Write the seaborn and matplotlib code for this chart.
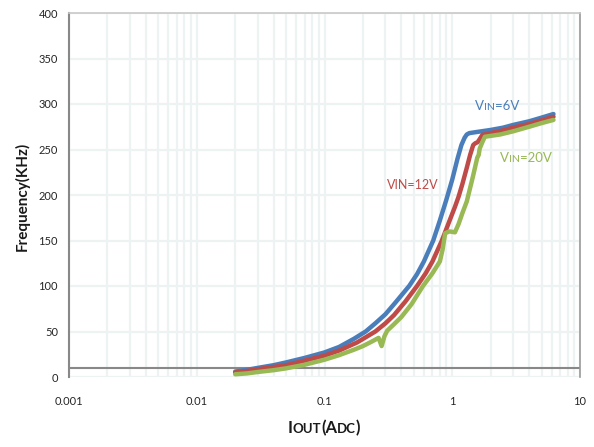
import pandas as pd
import seaborn as sns
import matplotlib.pyplot as plt
from matplotlib.offsetbox import TextArea, HPacker, AnnotationBbox, AnchoredOffsetbox

# 数据
iout_6v = [0.02, 0.025, 0.03, 0.04, 0.05, 0.07, 0.1, 0.13, 0.17, 0.21, 0.25, 0.3,
           0.36, 0.46, 0.53, 0.6, 0.71, 0.8, 0.9, 1.0, 1.1, 1.18, 1.25, 1.3, 1.36,
           1.6, 2.0, 2.5, 3.0, 4.0, 5.0, 6.2]
freq_6v = [6, 8, 10, 13, 16, 21, 27, 33, 42, 50, 59, 69,
           82, 100, 113, 127, 150, 172, 195, 217, 240, 255, 263, 266.5, 268,
           269.5, 271.5, 274, 277, 281, 285, 289]

iout_12v = [0.02, 0.025, 0.03, 0.04, 0.05, 0.07, 0.1, 0.13, 0.18, 0.25, 0.3, 0.35,
            0.43, 0.53, 0.62, 0.7, 0.83, 0.96, 1.05, 1.12, 1.2, 1.3, 1.38, 1.46,
            1.52, 1.58, 1.65, 1.72, 2.0, 2.5, 3.0, 4.0, 5.0, 6.2]
freq_12v = [5, 6.7, 8.5, 11, 13, 18, 23.5, 29, 38, 50, 59, 68,
            83, 100, 114, 127, 150, 173, 187, 198, 212, 230, 244, 255,
            257, 258, 262, 266, 268, 271, 274, 278, 282, 286]

iout_20v = [0.02, 0.025, 0.03, 0.04, 0.05, 0.07, 0.1, 0.13, 0.17, 0.2, 0.235, 0.265,
            0.28, 0.295, 0.31, 0.35, 0.4, 0.48, 0.59, 0.7, 0.8, 0.84, 0.88, 0.95,
            1.05, 1.12, 1.2, 1.3, 1.45, 1.57, 1.61, 1.64, 1.72, 1.8, 2.37, 3.0,
            4.0, 5.0, 6.2]
freq_20v = [3, 4, 5.5, 7.5, 9.5, 13.5, 19, 24, 30, 34, 39, 43,
            34, 45, 51, 58, 66, 80, 100, 114, 127, 140, 158, 160,
            159, 168, 180, 193, 220, 241, 244, 251, 258, 264, 266.5, 270,
            275, 279, 282.5]

series = ['6V', '12V', '20V']
colors = ['#4A7EBB', '#BE4B48', '#98B954']

x_ticks = [0.001, 0.01, 0.1, 1, 10]
x_tick_labels = ['0.001', '0.01', '0.1', '1', '10']
y_ticks = [0, 50, 100, 150, 200, 250, 300, 350, 400]

df = pd.concat([
    pd.DataFrame({'Iout': iout_6v, 'Freq': freq_6v, 'Vin': '6V'}),
    pd.DataFrame({'Iout': iout_12v, 'Freq': freq_12v, 'Vin': '12V'}),
    pd.DataFrame({'Iout': iout_20v, 'Freq': freq_20v, 'Vin': '20V'}),
])

sns.set_style('white')
FONT = ['Lato', 'DejaVu Sans']
plt.rcParams['font.family'] = FONT

fig = plt.figure(figsize=(5.94, 4.47), dpi=100)
ax = fig.add_axes([69 / 594, 1 - 377 / 447, 511 / 594, 364 / 447])

sns.lineplot(data=df, x='Iout', y='Freq', hue='Vin', hue_order=series,
             palette=colors, estimator=None, sort=False, linewidth=3.2,
             legend=False, ax=ax, solid_capstyle='round', solid_joinstyle='round')

ax.set_xscale('log')
ax.set_xlim(0.001, 10)
ax.set_ylim(0, 400)
ax.set_xticks(x_ticks, x_tick_labels)
ax.set_yticks(y_ticks)
ax.tick_params(axis='both', length=0, labelsize=8, colors='#262626')
ax.tick_params(axis='x', pad=14)
ax.tick_params(axis='y', pad=8)
ax.set_xlabel('')
ax.set_ylabel('')

# 网格
ax.grid(True, which='both', axis='x', color='#EDF2F2', linewidth=1.6)
ax.grid(True, which='major', axis='y', color='#EDF2F2', linewidth=1.6)
ax.set_axisbelow(True)

# 坐标轴样式
ax.spines['left'].set_color('#888888')
ax.spines['left'].set_linewidth(1.5)
ax.spines['right'].set_color('#9A9A9A')
ax.spines['right'].set_linewidth(1.2)
ax.spines['top'].set_color('#C8C8C8')
ax.spines['top'].set_linewidth(1.2)
ax.spines['bottom'].set_visible(False)
ax.axhline(10, color='#888888', linewidth=1.5, zorder=1.5)


def mixed_text(parts, color, weight='normal'):
    boxes = [TextArea(s, textprops=dict(fontsize=fs, color=color, fontweight=weight, family=FONT))
             for s, fs in parts]
    return HPacker(children=boxes, align='baseline', pad=0, sep=0)


# 曲线标签
labels = [
    ([('V', 9.5), ('IN', 7.5), ('=6V', 9.5)], colors[0], (1.51, 298)),
    ([('VIN=12V', 9)], colors[1], (0.31, 211)),
    ([('V', 9.5), ('IN', 7.5), ('=20V', 9.5)], colors[2], (2.37, 241)),
]
for parts, c, xy in labels:
    ab = AnnotationBbox(mixed_text(parts, c), xy, xycoords='data', frameon=False,
                        box_alignment=(0, 0.5), pad=0)
    ax.add_artist(ab)

# 坐标轴标题
xlab = mixed_text([('I', 12), ('OUT', 9.5), ('(A', 12), ('DC', 9.5), (')', 12)], '#1A1A1A', 'bold')
fig.add_artist(AnchoredOffsetbox(loc='center', child=xlab, frameon=False, pad=0, borderpad=0,
                                 bbox_to_anchor=(324 / 594, 1 - 428 / 447),
                                 bbox_transform=fig.transFigure))
fig.text(22 / 594, 1 - 196 / 447, 'Frequency(KHz)', rotation=90, ha='center', va='center',
         fontsize=11, fontweight='bold', color='#1A1A1A')

plt.savefig('out.png', dpi=100)
plt.close()
